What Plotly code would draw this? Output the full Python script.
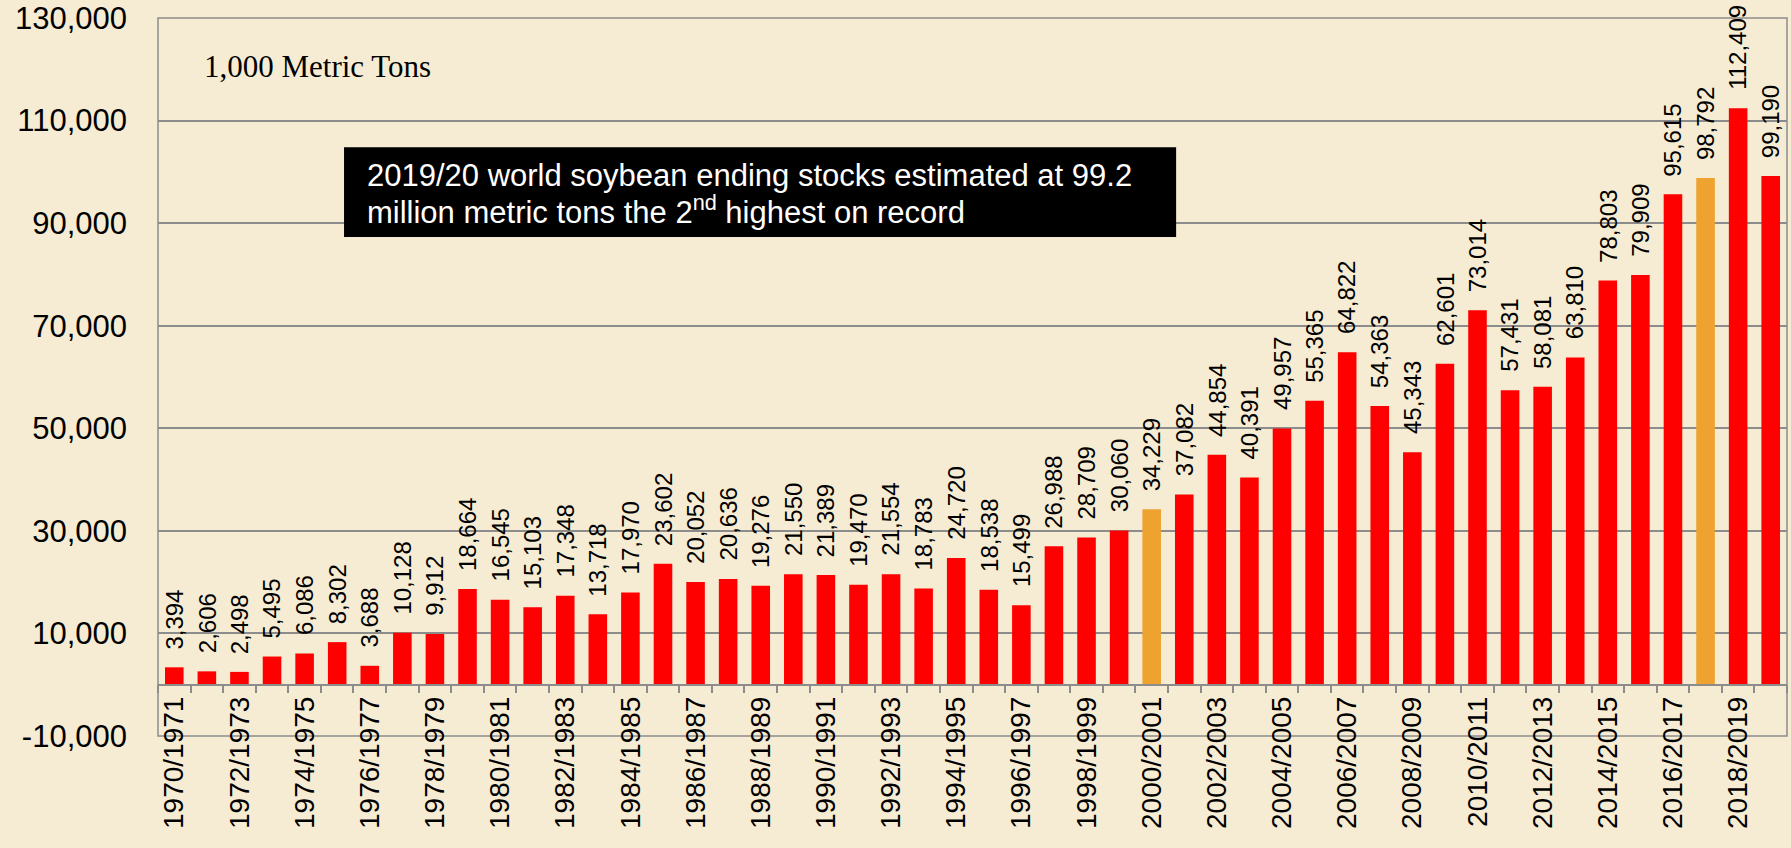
import plotly.graph_objects as go

# World soybean ending stocks, 1,000 metric tons
seasons = [f"{y}/{y + 1}" for y in range(1970, 2020)]
stocks = [3394, 2606, 2498, 5495, 6086, 8302, 3688, 10128, 9912, 18664,
          16545, 15103, 17348, 13718, 17970, 23602, 20052, 20636, 19276, 21550,
          21389, 19470, 21554, 18783, 24720, 18538, 15499, 26988, 28709, 30060,
          34229, 37082, 44854, 40391, 49957, 55365, 64822, 54363, 45343, 62601,
          73014, 57431, 58081, 63810, 78803, 79909, 95615, 98792, 112409, 99190]
highlight = ["2000/2001", "2017/2018"]
tick_labels = [s if i % 2 == 0 else "" for i, s in enumerate(seasons)]
y_ticks = [-10000, 10000, 30000, 50000, 70000, 90000, 110000, 130000]
y_tick_text = [f"{v:,}" for v in y_ticks]  # plain hyphen for the negative one

RED = "#FF0000"
ORANGE = "#EEA330"
GRID = "#8C8C8C"
BG = "#F6ECD3"
SANS = "Liberation Sans, Arial, sans-serif"

colors = [ORANGE if s in highlight else RED for s in seasons]

fig = go.Figure()
fig.add_trace(go.Bar(
    x=seasons, y=stocks,
    marker=dict(color=colors, line=dict(width=0)),
    hoverinfo="x+y",
))

# value labels, rotated, sitting on top of each bar
for s, v in zip(seasons, stocks):
    fig.add_annotation(
        x=s, y=v, xref="x", yref="y", text=f"{v:,}", textangle=-90,
        xanchor="center", yanchor="bottom", yshift=16, showarrow=False,
        font=dict(family=SANS, size=24, color="black"),
    )

fig.update_layout(
    width=1791, height=848,
    margin=dict(l=158, r=4, t=18, b=112, autoexpand=False),
    paper_bgcolor=BG, plot_bgcolor=BG,
    bargap=0.43, showlegend=False,
    xaxis=dict(
        type="category", categoryorder="array", categoryarray=seasons,
        tickmode="array", tickvals=seasons, ticktext=tick_labels,
        tickangle=-90, tickson="boundaries", automargin=False,
        anchor="free", position=1 / 14,
        showline=True, linecolor=GRID, linewidth=1.5,
        ticks="outside", ticklen=8, tickcolor=GRID, tickwidth=1.5,
        showgrid=False,
        tickfont=dict(family=SANS, size=28, color="black"),
    ),
    yaxis=dict(
        range=[-10000, 130000], tickmode="array",
        tickvals=y_ticks, ticktext=y_tick_text, automargin=False,
        showgrid=True, gridcolor=GRID, gridwidth=1.5,
        zeroline=False, showline=False, ticks="", ticklabelstandoff=30,
        tickfont=dict(family=SANS, size=31, color="black"),
    ),
)

# plot frame
fig.add_shape(type="rect", xref="paper", yref="paper", x0=0, x1=1, y0=0, y1=1,
              line=dict(color=GRID, width=1.5), layer="below")

fig.add_annotation(
    text="1,000 Metric Tons", xref="paper", yref="paper", x=0.027, y=0.932,
    xanchor="left", yanchor="middle", showarrow=False,
    font=dict(family="Liberation Serif, Times New Roman, serif", size=31, color="black"),
)

# callout box
fig.add_shape(type="rect", xref="paper", yref="paper", x0=0.1142, x1=0.625,
              y0=0.695, y1=0.820, fillcolor="black", line=dict(width=0))
callout = ["2019/20 world soybean ending stocks estimated at 99.2",
           "million metric tons the 2<sup>nd</sup> highest on record"]
for line, ypos in zip(callout, [0.780, 0.733]):
    fig.add_annotation(
        text=line, xref="paper", yref="paper", x=0.127, y=ypos,
        xanchor="left", yanchor="middle", align="left", showarrow=False,
        font=dict(family=SANS, size=31, color="white"),
    )

fig.write_html(
    "out.html",
    config={"displayModeBar": False},
    post_script="document.body.style.margin='0';"
                "document.body.style.overflow='hidden';"
                f"document.body.style.background='{BG}';",
)
